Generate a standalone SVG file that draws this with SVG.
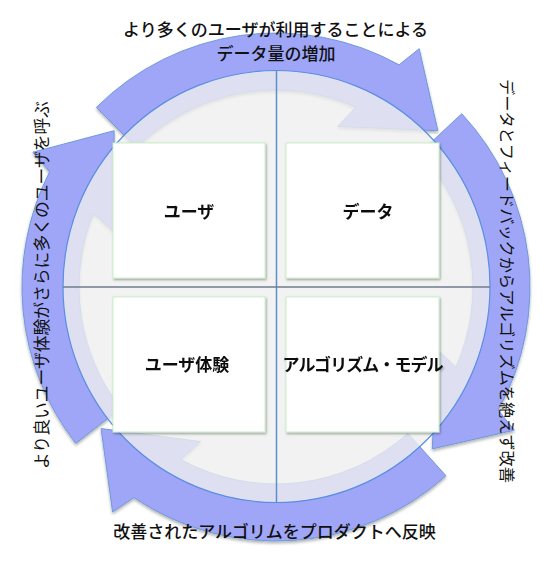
<svg xmlns="http://www.w3.org/2000/svg" width="549" height="573" viewBox="0 0 549 573">
<style>
.arrow{fill:#9fa6f8;stroke:#6e9ad8;stroke-width:1;stroke-linejoin:miter}
.box{fill:#ffffff;stroke:#c8efc8;stroke-width:1}
.lbl{font-family:"Noto Sans CJK JP","Noto Sans CJK SC",sans-serif;fill:#111111;text-anchor:middle;dominant-baseline:central}
.b{font-weight:bold;font-size:17px}
.m{font-weight:500;font-size:17px}
.v{font-weight:normal}
</style>
<defs>
<filter id="ash" x="-10%" y="-10%" width="120%" height="120%">
<feDropShadow dx="0" dy="2" stdDeviation="1.6" flood-color="#000" flood-opacity="0.3"/>
</filter>
<filter id="bsh" x="-10%" y="-10%" width="120%" height="120%">
<feDropShadow dx="1" dy="1.5" stdDeviation="1" flood-color="#000" flood-opacity="0.35"/>
</filter>
</defs>
<rect width="549" height="573" fill="#ffffff"/>
<g id="connectors" filter="url(#ash)">
<path id="arrow-top" class="arrow" d="M96.39,107.39 A254,254 0 0 1 399.14,64.85 L419.18,48.71 L437.85,130.70 L337.64,126.42 L356.13,107.03 A197,197 0 0 0 136.70,147.70 Z"/>
<path id="arrow-right" class="arrow" d="M461.76,113.77 A254,254 0 0 1 498.15,410.14 L514.29,430.18 L432.30,448.85 L436.58,348.64 L455.97,367.13 A197,197 0 0 0 420.08,152.65 Z"/>
<path id="arrow-bottom" class="arrow" d="M445.96,475.76 A254,254 0 0 1 133.97,497.58 L112.60,511.91 L101.14,428.60 L200.60,441.59 L180.49,459.30 A197,197 0 0 0 407.82,433.40 Z"/>
<path id="arrow-left" class="arrow" d="M75.85,443.38 A254,254 0 0 1 49.68,171.69 L32.86,152.22 L114.15,130.70 L113.37,231.00 L93.35,213.20 A197,197 0 0 0 120.76,408.29 Z"/>
</g>
<g id="circle">
<ellipse cx="276.5" cy="286.5" rx="213.5" ry="216" fill="#eeeeee" fill-opacity="0.79" stroke="#5a8ee0" stroke-width="1.2"/>
<line x1="276.5" y1="70.5" x2="276.5" y2="502.5" stroke="#5b8fcb" stroke-width="1.5"/>
<line x1="63" y1="287" x2="490" y2="287" stroke="#6f7c8c" stroke-width="1.6"/>
</g>
<g id="node-user" filter="url(#bsh)">
<rect class="box" x="113" y="143" width="152" height="135"/>
<text class="lbl b" x="189" y="210.5">ユーザ</text>
</g>
<g id="node-data" filter="url(#bsh)">
<rect class="box" x="286" y="143" width="153" height="135"/>
<text class="lbl b" x="368" y="210.5">データ</text>
</g>
<g id="node-ux" filter="url(#bsh)">
<rect class="box" x="113" y="297" width="152" height="135"/>
<text class="lbl b" x="187" y="363.5">ユーザ体験</text>
</g>
<g id="node-algo" filter="url(#bsh)">
<rect class="box" x="286" y="297" width="153" height="135"/>
<text class="lbl b" x="363" y="363.5" textLength="161" lengthAdjust="spacing">アルゴリズム・モデル</text>
</g>
<g id="labels">
<text class="lbl m" x="275.5" y="28">より多くのユーザが利用することによる</text>
<text class="lbl m" x="276" y="52.5">データ量の増加</text>
<text class="lbl v" font-size="16.2" transform="translate(508,281) rotate(90)" x="0" y="0">データとフィードバックからアルゴリズムを絶えず改善</text>
<text class="lbl m" x="274.5" y="530">改善されたアルゴリムをプロダクトへ反映</text>
<text class="lbl v" font-size="16.8" transform="translate(41,285) rotate(-90)" x="0" y="0">より良いユーザ体験がさらに多くのユーザを呼ぶ</text>
</g>
</svg>
